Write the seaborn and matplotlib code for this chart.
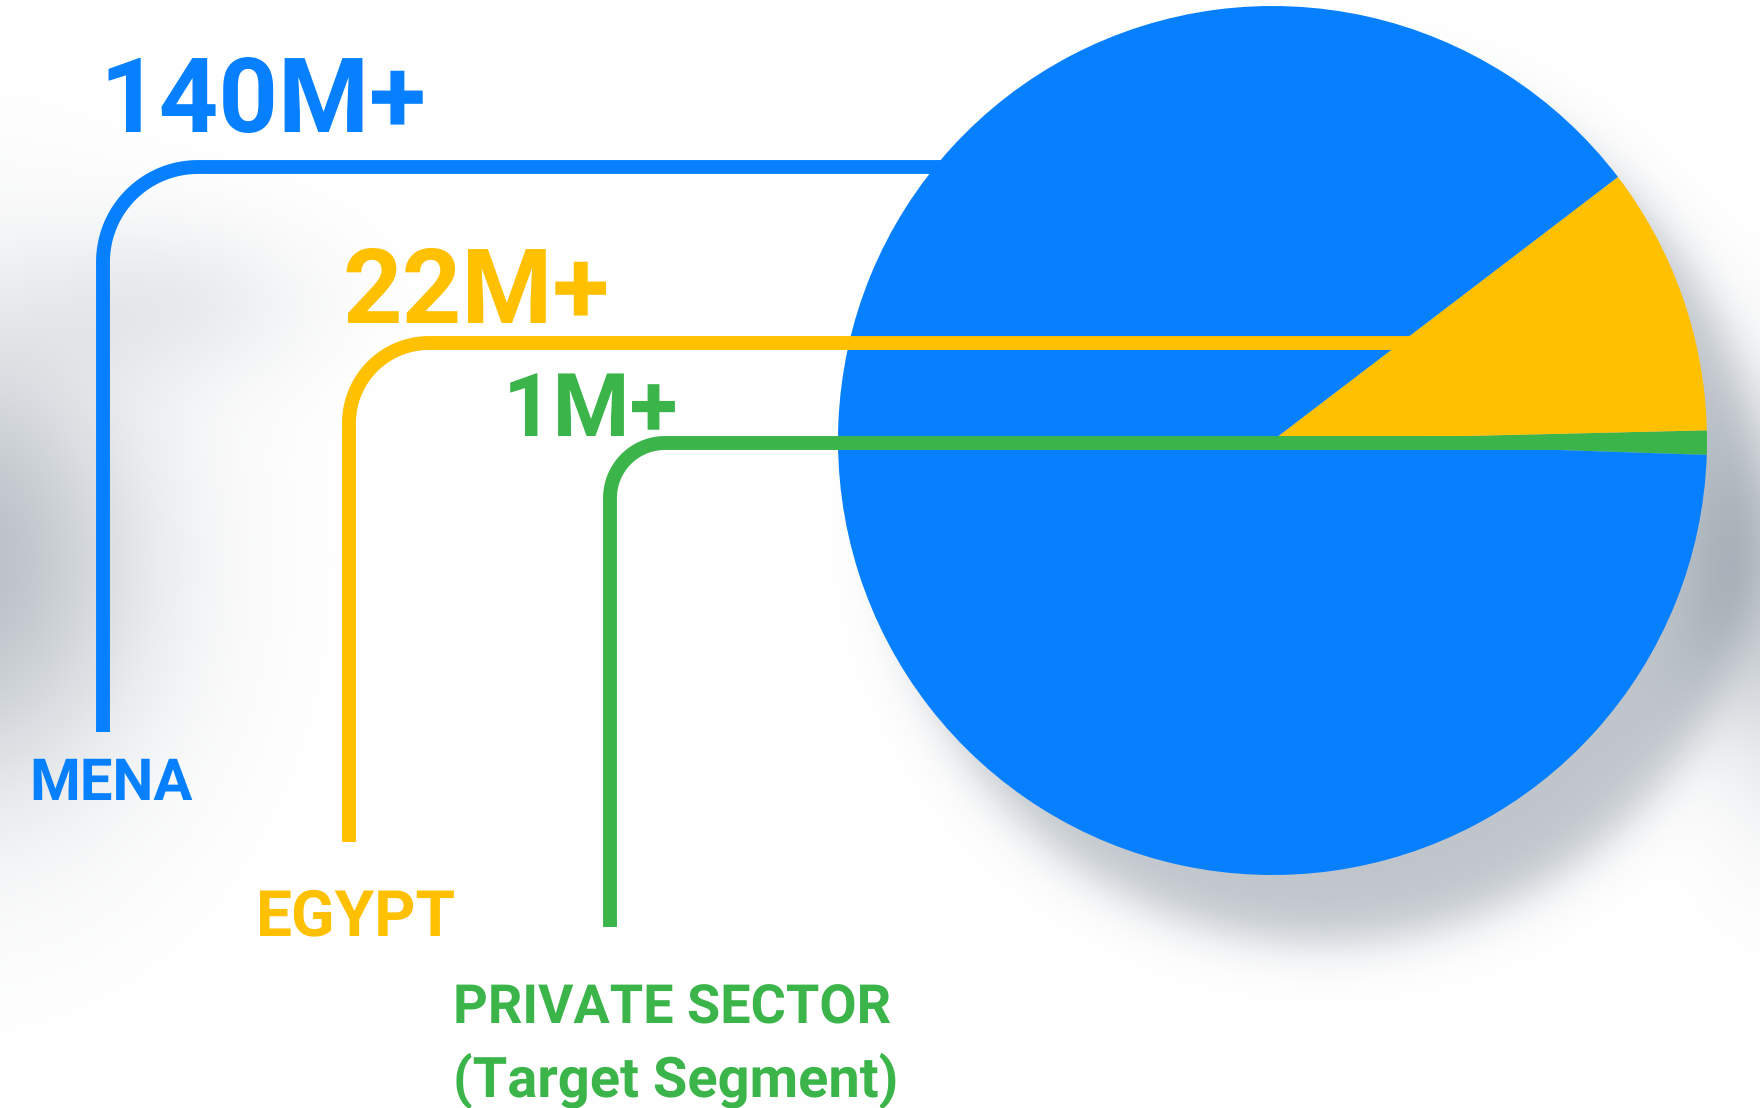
import numpy as np
import matplotlib.pyplot as plt
import seaborn as sns

# segments, their headline figures and the share of the circle each wedge takes (%)
segments = ["MENA", "EGYPT", "PRIVATE SECTOR"]
subtitle = "(Target Segment)"
totals = ["140M+", "22M+", "1M+"]
shares = [89.1, 10.0, 0.9]
colors = ["#0680FE", "#FFC000", "#3BB44A"]

W, H = 1760, 1108
sns.set_theme(style="white")
plt.rcParams["font.family"] = ["Roboto", "DejaVu Sans"]
plt.rcParams["text.hinting"] = "no_hinting"
plt.rcParams["text.hinting_factor"] = 1

fig = plt.figure(figsize=(W / 100, H / 100), dpi=100)
ax = fig.add_axes([0, 0, 1, 1])

# pie geometry (pixel space, y measured downwards from the top)
cx, cy, R = 1272.5, 440.5, 434.5
start = -1.9


def up(y):
    return H - np.asarray(y, dtype=float)


# soft grey background shading + pie drop shadow
gy, gx = np.mgrid[0:H:4, 0:W:4].astype(float)
shade = 0.55 * np.exp(-((gx + 40) / 180) ** 2 - ((gy - 560) / 230) ** 2)
shade += 0.15 * np.exp(-((gx - 170) / 140) ** 2 - ((gy - 300) / 80) ** 2)
d = np.hypot(gx - cx - 50, gy - cy - 65)
shade += 0.5 / (1 + np.exp((d - R) / 14))
shade += 0.4 * np.exp(-((gx - W - 20) / 80) ** 2 - ((gy - 600) / 180) ** 2)
shade = np.clip(shade, 0, 0.8)
grey = np.array([128, 140, 152]) / 255
bg = 1 - shade[..., None] * (1 - grey)
ax.imshow(bg, extent=(0, W, 0, H), origin="upper", interpolation="bilinear", zorder=0)

# pie: green first, counter-clockwise from just below the horizontal
wedges, _ = ax.pie(
    shares[::-1], colors=colors[::-1], startangle=start, counterclock=True,
    center=(cx, up(cy)), radius=R, frame=True,
    wedgeprops=dict(linewidth=0, antialiased=True, zorder=2),
)


def connector(x, y_bot, y_top, x_end, r, color, z):
    t = np.linspace(np.pi, np.pi / 2, 40)
    xs = np.concatenate([[x], x + r + r * np.cos(t), [x_end]])
    ys = np.concatenate([[y_bot], y_top + r - r * np.sin(t), [y_top]])
    ax.plot(xs, up(ys), color=color, lw=10, solid_capstyle="butt",
            solid_joinstyle="round", zorder=z)


# yellow line runs into the yellow wedge: stop a little past its upper edge
yellow_top = np.deg2rad(start + (shares[2] + shares[1]) * 3.6)
y_yellow = 343
x_yellow = cx + (cy - y_yellow) / np.tan(yellow_top) + 15

connector(103, 732, 167, 1000, 95, colors[0], 1)
connector(349, 842, y_yellow, x_yellow, 80, colors[1], 3)
connector(610, 927, 443, cx + R - 4, 55, colors[2], 3)

txt = dict(fontweight="bold", va="baseline", ha="left", zorder=4)
ax.text(99, up(132), totals[0], color=colors[0], fontsize=75, **txt)
ax.text(342, up(323), totals[1], color=colors[1], fontsize=75, **txt)
ax.text(503, up(436), totals[2], color=colors[2], fontsize=63, **txt)
ax.text(29, up(800), segments[0], color=colors[0], fontsize=42, **txt)
ax.text(256, up(935), segments[1], color=colors[1], fontsize=46, **txt)
ax.text(453, up(1023), segments[2], color=colors[2], fontsize=39, **txt)
ax.text(453, up(1097), subtitle, color=colors[2], fontsize=40, **txt)

ax.set_xlim(0, W)
ax.set_ylim(0, H)
ax.set_aspect("equal")
ax.axis("off")

fig.savefig("out.png", dpi=100)
